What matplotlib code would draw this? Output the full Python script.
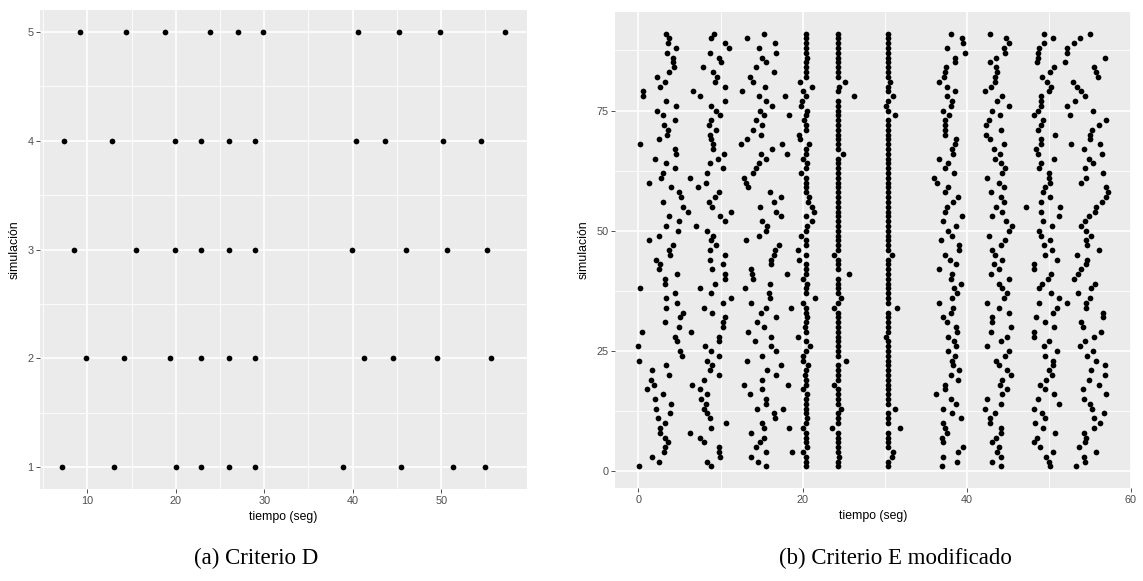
import matplotlib
matplotlib.use("Agg")
import matplotlib.pyplot as plt
from matplotlib.ticker import FixedLocator

# ---------------- (a) Criterio D: event times for 5 simulations ----------------
sims_d = [1, 2, 3, 4, 5]
times_d = [
    [7.15, 12.97, 20.07, 22.9, 26.0, 29.0, 38.9, 45.5, 51.3, 54.95],   # sim 1
    [9.8, 14.1, 19.4, 22.9, 26.0, 29.0, 41.3, 44.6, 49.5, 55.6],       # sim 2
    [8.5, 15.45, 19.9, 22.9, 26.0, 29.0, 39.9, 46.0, 50.7, 55.2],      # sim 3
    [7.4, 12.8, 19.9, 22.9, 26.0, 29.0, 40.4, 43.6, 50.2, 54.5],       # sim 4
    [9.13, 14.4, 18.8, 23.9, 27.0, 29.9, 40.6, 45.2, 49.9, 57.2],      # sim 5
]

# ---------------- (b) Criterio E modificado: 91 simulations ----------------
# one list per event group, value i belongs to simulation i+1
ev1 = [0.05, 2.47, 1.70, 3.08, 3.24, 3.56, 3.24, 2.63, 2.63, 3.24,
       2.35, 3.85, 2.19, 4.00, 2.02, 2.96, 1.09, 1.86, 1.54, 3.68,
       1.70, 3.40, 0.04, 5.34, 5.02, 0.00, 4.74, 4.45, 0.49, 4.90,
       3.24, 5.02, 5.38, 3.40, 4.74, 3.40, 4.45, 0.16, 3.24, 3.24,
       4.74, 2.47, 2.63, 2.19, 3.90, 3.72, 4.25, 1.25, 2.47, 4.80,
       3.40, 5.00, 3.72, 6.07, 5.40, 2.96, 5.20, 4.94, 4.00, 1.25,
       2.75, 2.96, 4.45, 3.40, 2.00, 4.60, 4.45, 0.20, 2.47, 3.50,
       3.56, 3.08, 4.45, 2.96, 2.30, 4.60, 3.40, 0.60, 0.60, 2.63,
       3.20, 2.30, 3.72, 4.33, 4.17, 4.25, 3.50, 4.60, 3.64, 3.72,
       3.40]
ev2 = [8.87, 8.38, 9.92, 9.80, 9.80, 7.94, 7.49, 6.28, 8.87, 10.69,
       8.70, 8.38, 7.94, 8.22, 7.61, 8.38, 7.49, 6.56, 7.94, 9.80,
       8.70, 9.00, 8.38, 9.80, 8.87, 8.10, 9.80, 9.80, 6.40, 10.24,
       10.24, 10.57, 9.00, 7.94, 10.24, 11.30, 8.87, 7.49, 9.31, 10.57,
       10.57, 9.00, 10.24, 8.70, 10.57, 8.70, 9.47, 8.87, 9.10, 8.38,
       7.00, 10.57, 9.92, 11.30, 9.00, 8.54, 9.31, 9.80, 7.29, 8.20,
       6.28, 8.38, 10.24, 8.70, 9.64, 10.40, 9.10, 9.10, 8.87, 8.70,
       9.47, 8.54, 8.87, 9.92, 9.43, 8.87, 10.57, 7.53, 6.60, 10.57,
       9.31, 9.60, 9.10, 7.81, 10.00, 9.80, 8.70, 11.00, 10.57, 8.87,
       9.19]
ev3 = [15.55, 14.60, 13.68, 15.55, 14.33, 14.78, 15.26, 13.68, 15.26, 15.10,
       16.60, 16.48, 14.50, 15.55, 15.55, 13.56, 15.10, 12.80, 15.10, 16.76,
       15.70, 17.37, 13.24, 15.10, 16.76, 16.15, 14.17, 16.15, 13.40, 15.26,
       14.50, 16.76, 14.94, 15.55, 13.68, 16.00, 15.87, 12.96, 16.00, 14.00,
       13.85, 13.68, 16.20, 16.20, 16.48, 16.60, 17.17, 13.10, 14.66, 15.55,
       15.70, 15.10, 17.33, 16.76, 14.82, 16.48, 17.33, 16.00, 13.40, 13.10,
       12.90, 14.00, 14.29, 14.66, 15.59, 14.94, 16.28, 12.47, 13.28, 14.94,
       14.00, 15.10, 14.29, 15.26, 14.82, 16.28, 15.55, 14.66, 12.63, 15.38,
       14.00, 13.56, 16.48, 14.29, 15.59, 15.10, 16.76, 14.66, 16.60, 13.28,
       15.26]
ev4 = [20.45, 20.40, 20.45, 20.00, 20.50, 20.45, 20.40, 20.45, 20.10, 20.45,
       20.50, 20.45, 20.40, 20.45, 20.45, 20.50, 20.00, 20.45, 20.40, 20.30,
       20.45, 20.60, 20.00, 20.00, 20.45, 20.90, 20.45, 19.40, 20.45, 20.30,
       20.45, 20.50, 20.45, 20.40, 20.00, 21.50, 20.45, 20.45, 20.50, 20.00,
       20.45, 20.40, 20.45, 19.60, 20.45, 19.40, 20.45, 20.45, 19.80, 20.45,
       20.50, 21.10, 20.45, 21.40, 21.10, 20.60, 20.80, 20.45, 20.40, 20.45,
       20.45, 19.80, 20.45, 20.50, 20.00, 20.45, 20.45, 20.80, 19.70, 19.60,
       20.45, 20.45, 20.20, 20.45, 20.50, 19.80, 19.90, 20.45, 20.10, 21.10,
       19.70, 20.45, 20.40, 20.45, 20.45, 20.50, 20.45, 20.45, 20.40, 20.45,
       20.45]
ev5 = [24.30, 24.30, 24.45, 24.30, 24.30, 24.30, 24.30, 24.30, 23.60, 24.30,
       24.30, 24.30, 24.65, 24.30, 24.30, 24.30, 24.30, 23.85, 24.30, 24.30,
       24.30, 24.30, 25.30, 24.30, 24.30, 24.30, 24.30, 24.30, 24.30, 24.30,
       24.30, 24.30, 24.30, 23.85, 24.30, 24.70, 24.30, 24.30, 24.30, 24.30,
       25.70, 24.30, 24.30, 24.30, 23.85, 24.30, 24.30, 24.30, 24.30, 24.30,
       24.30, 24.30, 24.30, 24.30, 24.30, 24.30, 24.30, 24.30, 24.30, 24.30,
       24.30, 24.30, 24.30, 24.30, 24.30, 24.90, 24.30, 24.30, 24.30, 24.30,
       24.30, 24.30, 24.30, 24.30, 24.30, 24.30, 24.30, 26.30, 24.30, 24.45,
       25.20, 24.30, 24.30, 24.30, 24.30, 24.30, 24.30, 24.30, 24.30, 24.30,
       24.30]
ev6 = [30.35, 30.35, 30.90, 31.00, 30.35, 30.35, 30.35, 30.35, 31.90, 30.35,
       30.35, 30.35, 31.30, 30.35, 30.35, 30.35, 30.35, 30.35, 30.35, 30.35,
       30.35, 30.35, 30.35, 30.35, 30.35, 30.35, 30.35, 30.20, 30.35, 30.35,
       30.35, 30.35, 30.35, 31.50, 30.35, 30.35, 30.35, 30.35, 30.35, 30.35,
       30.35, 30.35, 30.35, 30.35, 30.90, 30.35, 30.35, 30.35, 30.35, 30.35,
       30.35, 30.35, 30.35, 30.35, 30.35, 30.35, 30.35, 30.35, 30.35, 30.35,
       30.35, 30.35, 30.35, 30.35, 30.35, 30.35, 30.35, 30.35, 30.35, 30.35,
       30.35, 30.35, 30.35, 31.30, 30.35, 30.10, 30.35, 31.00, 30.35, 30.35,
       30.60, 30.35, 30.35, 30.35, 30.35, 30.35, 30.35, 30.35, 30.35, 30.35,
       30.35]
ev7 = [37.00, 38.78, 37.14, 38.94, 39.60, 37.14, 36.94, 37.55, 37.35, 37.14,
       39.27, 38.20, 37.14, 38.65, 38.04, 36.20, 37.30, 37.30, 38.98, 38.04,
       39.10, 38.37, 38.20, 38.60, 37.76, 38.65, 38.50, 37.76, 38.78, 38.65,
       37.55, 37.14, 38.04, 38.37, 36.65, 38.20, 38.78, 38.50, 39.27, 38.04,
       38.24, 36.65, 38.65, 37.90, 37.35, 39.10, 39.10, 36.80, 38.24, 37.76,
       38.65, 37.14, 39.47, 37.35, 37.55, 38.37, 38.98, 37.35, 37.76, 36.40,
       36.04, 38.50, 37.35, 37.76, 36.65, 38.37, 38.20, 38.60, 38.65, 37.30,
       37.40, 37.35, 37.35, 37.88, 37.14, 38.04, 38.16, 37.55, 38.53, 37.55,
       36.65, 37.20, 37.35, 37.47, 38.53, 38.53, 39.76, 37.55, 39.60, 39.43,
       38.08]
ev8 = [44.20, 43.10, 44.20, 43.67, 43.88, 43.06, 43.60, 44.20, 44.20, 42.80,
       42.80, 43.40, 42.16, 44.20, 42.45, 44.30, 44.90, 44.00, 44.30, 45.40,
       44.90, 43.90, 43.60, 44.65, 45.10, 42.50, 44.20, 44.90, 42.98, 45.40,
       43.10, 43.10, 45.20, 43.90, 42.50, 44.50, 44.90, 44.30, 43.88, 45.20,
       42.98, 43.90, 43.27, 44.30, 43.40, 43.10, 44.20, 44.60, 42.65, 45.10,
       45.50, 44.80, 43.10, 44.30, 43.60, 44.50, 44.20, 43.00, 44.50, 43.90,
       42.50, 44.30, 44.60, 44.20, 43.40, 44.10, 43.27, 44.50, 42.80, 42.30,
       44.20, 42.30, 42.65, 44.00, 43.10, 45.20, 43.67, 44.30, 42.16, 42.90,
       43.40, 43.40, 43.67, 43.60, 42.80, 43.55, 44.60, 44.50, 45.20, 44.80,
       42.80]
ev9 = [50.10, 50.00, 49.70, 50.45, 48.90, 48.16, 48.60, 50.70, 49.27, 48.30,
       49.50, 49.20, 48.16, 51.20, 48.65, 50.60, 49.50, 48.90, 49.67, 50.40,
       50.00, 50.50, 50.45, 49.55, 51.00, 49.35, 50.00, 48.16, 48.16, 50.60,
       49.50, 48.45, 50.45, 51.00, 48.80, 51.20, 50.30, 48.80, 49.20, 49.90,
       50.30, 48.16, 48.24, 51.00, 49.50, 50.40, 49.40, 50.10, 49.06, 48.80,
       50.40, 49.30, 51.20, 49.06, 51.35, 49.00, 50.10, 49.30, 49.50, 50.10,
       50.00, 50.00, 48.80, 49.00, 50.60, 48.65, 48.40, 49.06, 49.06, 50.80,
       48.65, 49.10, 49.27, 48.16, 48.65, 49.10, 49.06, 49.06, 50.00, 50.30,
       49.80, 49.20, 50.10, 50.60, 48.60, 48.70, 48.70, 48.80, 49.40, 50.50,
       49.40]
ev10 = [53.35, 54.45, 54.30, 55.80, 53.67, 54.45, 54.57, 54.30, 55.50, 56.25,
        55.50, 56.70, 55.20, 55.00, 54.30, 56.94, 54.10, 56.10, 54.94, 56.90,
        55.10, 56.90, 55.80, 54.70, 55.35, 53.80, 54.45, 55.50, 56.40, 54.10,
        53.96, 56.57, 56.57, 54.57, 54.50, 55.00, 53.55, 55.14, 55.60, 53.06,
        53.55, 53.96, 54.50, 54.70, 53.40, 56.10, 54.70, 54.57, 55.10, 54.57,
        53.88, 54.45, 54.86, 55.67, 55.80, 56.45, 56.94, 57.15, 56.94, 53.96,
        54.50, 56.57, 54.45, 55.35, 54.86, 56.45, 54.30, 52.70, 55.00, 55.00,
        55.30, 56.10, 57.00, 52.57, 55.35, 52.16, 53.20, 54.45, 53.96, 53.47,
        52.90, 55.96, 55.70, 55.50, 52.00, 56.90, 52.16, 52.16, 53.06, 53.80,
        55.06]
# simulations with an additional event
extra_sim = [78, 74, 68, 66, 41, 34, 18, 13, 9, 4, 55, 35, 68]
extra_t = [17.85, 18.40, 17.50, 18.10, 18.10, 18.60, 18.26, 17.65, 18.40, 18.70,
           47.20, 52.20, 56.20]

# ---------------- figure ----------------
W, H = 1143, 581
fig = plt.figure(figsize=(W / 100, H / 100), dpi=100)
fig.patch.set_facecolor("white")

SANS = ["Liberation Sans", "DejaVu Sans"]
SERIF = ["Liberation Serif", "DejaVu Serif"]
BG = "#EBEBEB"
TICK_TXT = "#4D4D4D"
TICK_LINE = "#333333"


def px_axes(left, top, right, bottom):
    return fig.add_axes([left / W, 1 - bottom / H, (right - left) / W, (bottom - top) / H])


def gg_style(ax, xmaj, xmin, ymaj, ymin):
    ax.set_facecolor(BG)
    for s in ax.spines.values():
        s.set_visible(False)
    ax.xaxis.set_major_locator(FixedLocator(xmaj))
    ax.xaxis.set_minor_locator(FixedLocator(xmin))
    ax.yaxis.set_major_locator(FixedLocator(ymaj))
    ax.yaxis.set_minor_locator(FixedLocator(ymin))
    ax.grid(which="major", color="white", linewidth=1.2)
    ax.grid(which="minor", color="white", linewidth=0.6)
    ax.set_axisbelow(True)
    ax.tick_params(which="major", length=2.8, width=0.6, color=TICK_LINE,
                   labelcolor=TICK_TXT, labelsize=7.8, pad=2)
    ax.tick_params(which="minor", length=0)
    for lab in ax.get_xticklabels() + ax.get_yticklabels():
        lab.set_family(SANS)
    ax.set_xlabel("tiempo (seg)", family=SANS, fontsize=8.8, color="black", labelpad=4)
    ax.set_ylabel("simulación", family=SANS, fontsize=8.8, color="black", labelpad=5)


PT = 17  # marker area

# (a)
ax1 = px_axes(40, 10, 527, 489)
for s, row in zip(sims_d, times_d):
    ax1.scatter(row, [s] * len(row), s=PT, color="black", linewidths=0, zorder=3)
ax1.margins(x=0.05, y=0.05)
gg_style(ax1, [10, 20, 30, 40, 50], [5, 15, 25, 35, 45, 55],
         [1, 2, 3, 4, 5], [1.5, 2.5, 3.5, 4.5])

# (b)
ax2 = px_axes(615, 12, 1131, 488)
sim_ids = list(range(1, len(ev1) + 1))
for col in (ev1, ev2, ev3, ev4, ev5, ev6, ev7, ev8, ev9, ev10):
    ax2.scatter(col, sim_ids, s=PT, color="black", linewidths=0, zorder=3)
ax2.scatter(extra_t, extra_sim, s=PT, color="black", linewidths=0, zorder=3)
ax2.margins(x=0.05, y=0.05)
x0, x1 = ax2.get_xlim()
ax2.set_xlim(x0, max(x1, 60.0))
gg_style(ax2, [0, 20, 40, 60], [10, 30, 50],
         [0, 25, 50, 75], [12.5, 37.5, 62.5, 87.5])

# captions
fig.text(256 / W, 1 - 558 / H, "(a) Criterio D", family=SERIF, fontsize=16.5,
         ha="center", va="center")
fig.text(895 / W, 1 - 558 / H, "(b) Criterio E modificado", family=SERIF,
         fontsize=16.5, ha="center", va="center")

fig.savefig("out.png", dpi=100, facecolor="white")
